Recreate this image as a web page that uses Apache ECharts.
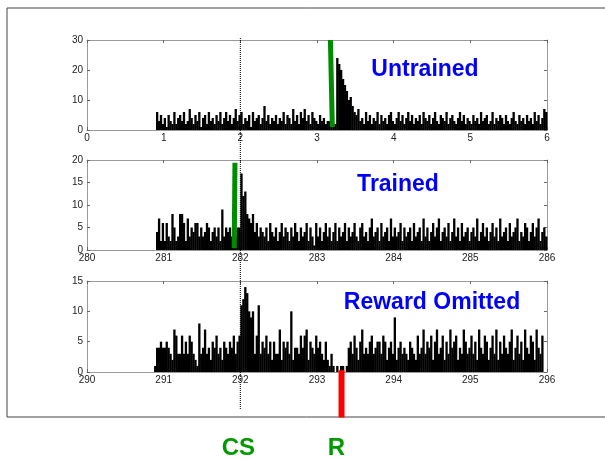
<!DOCTYPE html>
<html><head><meta charset="utf-8">
<script src="https://cdn.jsdelivr.net/npm/echarts@6/dist/echarts.min.js"></script>
<style>html,body{margin:0;padding:0;background:#fff}#c{width:605px;height:461px}</style>
</head><body><div id="c"></div>
<script>
// ---- data ----
const binWidth = 0.025;
const untrainedStart = 0.9;
const untrainedCounts = [
  6,3,5,2,
  4,1,5,3,2,6,2,4,5,3, 6,2,3,7,4,2,5,3,6,1, 4,5,2,6,3,4,2,5,3,6, 2,4,6,3,5,2,4,7,3,5,
  6,2,4,3,5,1,6,3,4,5, 2,4,8,3,5,2,4,3,5,2, 4,3,6,2,5,4,2,7,3,5, 2,6,4,7,3,5,2,6,4,3,
  2,5,3,4,2,3,3,2,2,2,
  24,22,20,17,15,13,10,11,8,6,5,7,3,
  4,2,6,3,5,2,4,3,6,2,5,3,4,2,5,6,3,
  2,4,6,3,5,2,4,6,3,5, 2,4,3,5,2,6,4,3,5,2, 4,6,3,2,5,4,3,6,2,4, 5,3,2,4,6,3,5,2,4,3,
  2,5,3,4,2,6,3,4,5,2, 3,6,2,4,3,5,4,2,5,3, 2,4,6,3,2,5,3,4,2,5, 3,4,2,6,3,5,2,4,7,6
];
const trainedStart = 280.9;
const trainedCounts = [
  4,7,2,6,
  2,6,3,2,8,5,2,3,8,8, 6,2,7,3,5,4,6,6,3,5, 3,4,6,5,2,4,5,3,5,2, 9,3,5,4,5,3,
  4,3,5,5,
  17,12,13,8,7,6,8,4,6,3,5,4,
  3,5,2,6,4,3,5,2,4,6, 3,5,4,2,5,3,6,4,2,5, 3,4,6,2,5,3,1,6,
  3,5,2,4,6,3,5,2,4,6, 2,5,3,4,6,2,5,3,4,6, 3,2,5,6,3,4,2,5,7,3, 4,5,2,6,3,4,5,2,7,3,
  5,3,4,6,2,5,3,4,5,2, 6,3,4,5,2,7,3,5,2,4, 6,3,5,7,2,4,5,3,6,2, 4,7,3,5,2,6,3,4,5,2,
  4,5,3,7,2,4,6,3,5,2, 4,6,3,5,2,7,3,4,5,2, 6,3,4,5,7,2,4,3,6,5, 2,4,6,3,5,7,2,4,5,3
];
const omittedStart = 290.875;
const omittedCounts = [
  1,4,4,5,4,
  4,5,4,3,2,7,6,3,3,6, 3,5,3,6,5,3,2,1,8,3, 4,7,3,4,2,5,4,6,3,4, 2,5,4,3,5,4,6,3,5,6,
  11,12,14,13,10,9,10,3,6,11,3,5,
  4,6,3,5,2,5,3,3,7,2, 5,4,5,3,10,2,4,4,3,6, 4,6,7,2,5,4,3,6,
  4,5,3,2,5,2,1,3,
  1,0,1,0,1,1,0,1,4,5,
  3,6,4,2,5,7,3,4,3,5, 6,3,4,5,5,3,6,5,2,4,5,3,
  9,2,4,5,3,4,3,2,5,4,3, 2,6,3,4,7,3,5,4,6,2, 5,7,3,4,6,2,5,3,7,4, 5,6,2,4,3,7,5,3,4,
  6,3,5,2,7,4,3,6,5,2, 4,6,3,7,2,5,3,6,4,3, 5,7,2,4,6,3,5,2,7,4, 3,6,5,2,7,4,3,6
];
const panelTitles = ['Untrained', 'Trained', 'Reward Omitted'];
const xRanges = [[0, 6], [280, 286], [290, 296]];
const yMaxes = [30, 20, 15];
const yIntervals = [10, 5, 5];
const csTime = 2;                      // CS time in panel-1 units
const csBarUntrained = [[3.175, 30], [3.2, 1]];
const csBarTrained = [[281.93, 19.4], [281.92, 0.4]];
const rewardMark = [[293.32, 0.3], [293.32, -7.5]];

// ---- chart ----
const chart = echarts.init(document.getElementById('c'), null, {renderer: 'canvas'});
const tops = [40, 160, 281];
const heights = [90, 90, 91];
const FONT = 'Liberation Sans, Arial, sans-serif';
const axisLineStyle = {color: '#9a9a9a', width: 1};

const grids = [], xAxes = [], yAxes = [], series = [];
for (let p = 0; p < 3; p++) {
  grids.push({left: 87, width: 460, top: tops[p], height: heights[p], show: false});
  xAxes.push({type: 'value', gridIndex: p, min: xRanges[p][0], max: xRanges[p][1], interval: 1,
    position: 'bottom',
    axisLine: {show: true, onZero: false, lineStyle: axisLineStyle},
    axisTick: {show: true, inside: true, length: 3, lineStyle: {color: '#666'}},
    axisLabel: {show: true, fontSize: 10, color: '#222', fontFamily: FONT, margin: 3},
    splitLine: {show: false}});
  xAxes.push({type: 'value', gridIndex: p, min: xRanges[p][0], max: xRanges[p][1], interval: 1,
    position: 'top',
    axisLine: {show: true, onZero: false, lineStyle: axisLineStyle},
    axisTick: {show: true, inside: true, length: 3, lineStyle: {color: '#666'}},
    axisLabel: {show: false}, splitLine: {show: false}});
  yAxes.push({type: 'value', gridIndex: p, min: 0, max: yMaxes[p], interval: yIntervals[p],
    position: 'left',
    axisLine: {show: true, onZero: false, lineStyle: axisLineStyle},
    axisTick: {show: true, inside: true, length: 3, lineStyle: {color: '#666'}},
    axisLabel: {show: true, fontSize: 10, color: '#222', fontFamily: FONT, margin: 4},
    splitLine: {show: false}});
  yAxes.push({type: 'value', gridIndex: p, min: 0, max: yMaxes[p], interval: yIntervals[p],
    position: 'right',
    axisLine: {show: true, onZero: false, lineStyle: axisLineStyle},
    axisTick: {show: true, inside: true, length: 3, lineStyle: {color: '#666'}},
    axisLabel: {show: false}, splitLine: {show: false}});
}

const starts = [untrainedStart, trainedStart, omittedStart];
const counts = [untrainedCounts, trainedCounts, omittedCounts];
for (let p = 0; p < 3; p++) {
  const data = counts[p].map((v, i) => [starts[p] + i * binWidth, v]);
  series.push({
    type: 'custom', xAxisIndex: 2 * p, yAxisIndex: 2 * p, data: data, z: 2,
    renderItem: function (params, api) {
      const x0 = api.value(0), v = api.value(1);
      const a = api.coord([x0, v]);
      const b = api.coord([x0 + binWidth, 0]);
      return {type: 'rect', shape: {x: a[0], y: a[1], width: b[0] - a[0] + 0.4, height: b[1] - a[1]},
        style: {fill: '#000'}};
    }
  });
}
series.push({type: 'line', xAxisIndex: 0, yAxisIndex: 0, data: csBarUntrained, symbol: 'none', z: 5,
  lineStyle: {color: '#008c00', width: 5, cap: 'butt'}, clip: false, silent: true});
series.push({type: 'line', xAxisIndex: 2, yAxisIndex: 2, data: csBarTrained, symbol: 'none', z: 5,
  lineStyle: {color: '#008c00', width: 5, cap: 'butt'}, clip: false, silent: true});
series.push({type: 'line', xAxisIndex: 4, yAxisIndex: 4, data: rewardMark, symbol: 'none', z: 5,
  lineStyle: {color: '#ff0000', width: 6, cap: 'butt'}, clip: false, silent: true});

chart.setOption({
  animation: false,
  backgroundColor: '#fff',
  grid: grids, xAxis: xAxes, yAxis: yAxes, series: series
});

const csX = chart.convertToPixel({xAxisIndex: 0}, csTime);
const titleY = [70, 185, 303];
const titleX = [425, 398, 432];
chart.setOption({
  graphic: [
    {type: 'rect', shape: {x: 7, y: 8, width: 620, height: 409}, z: -10,
      style: {fill: 'none', stroke: '#444', lineWidth: 1}},
    {type: 'line', shape: {x1: csX, y1: 38, x2: csX, y2: 410}, z: 100,
      style: {stroke: '#000', lineWidth: 1, lineDash: [1, 1]}},
    ...panelTitles.map((t, i) => ({type: 'text', x: titleX[i], y: titleY[i], z: 100,
      style: {text: t, font: 'bold 23px ' + FONT, fill: '#0000ff', align: 'center', verticalAlign: 'middle'}})),
    {type: 'text', x: csX - 2, y: 448, z: 100,
      style: {text: 'CS', font: 'bold 24px ' + FONT, fill: '#009a00', align: 'center', verticalAlign: 'middle'}},
    {type: 'text', x: chart.convertToPixel({xAxisIndex: 4}, rewardMark[0][0]) - 5, y: 448, z: 100,
      style: {text: 'R', font: 'bold 24px ' + FONT, fill: '#009a00', align: 'center', verticalAlign: 'middle'}}
  ]
});
</script></body></html>
